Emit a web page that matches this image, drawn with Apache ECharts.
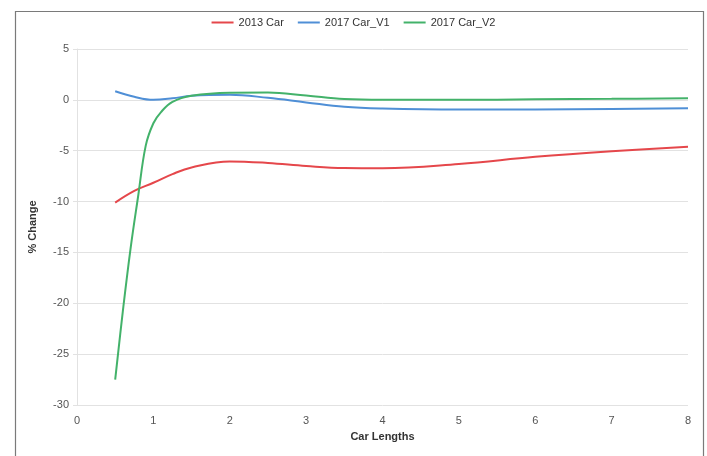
<!DOCTYPE html>
<html>
<head>
<meta charset="utf-8">
<script src="https://cdn.jsdelivr.net/npm/echarts@6/dist/echarts.min.js"></script>
<style>
  html, body { margin: 0; padding: 0; background: #fff; }
  #chart { width: 707px; height: 456px; }
</style>
</head>
<body>
<div id="chart"></div>
<script>
// Percent change vs. following distance (car lengths)
const seriesNames = ['2013 Car', '2017 Car_V1', '2017 Car_V2'];

const car2013X = [0.5, 0.75, 1, 1.25, 1.5, 2, 2.5, 3, 3.5, 4, 5, 6, 7, 8];
const car2013Y = [-10.1, -8.95, -8.15, -7.3, -6.65, -6.05, -6.2, -6.5, -6.7, -6.72, -6.3, -5.6, -5.05, -4.6];

const car2017V1X = [0.5, 0.75, 1, 1.25, 1.5, 2, 2.5, 3, 3.5, 4, 5, 6, 7, 8];
const car2017V1Y = [0.85, 0.3, 0.0, 0.15, 0.4, 0.5, 0.2, -0.25, -0.68, -0.85, -0.95, -0.95, -0.9, -0.82];

const car2017V2X = [0.5, 0.6, 0.7, 0.8, 0.9, 1, 1.1, 1.25, 1.5, 2, 2.5, 3, 3.5, 4, 5, 6, 7, 8];
const car2017V2Y = [-27.5, -20.8, -14.7, -9.5, -4.5, -2.3, -1.2, -0.2, 0.4, 0.7, 0.72, 0.42, 0.08, 0.0, 0.0, 0.05, 0.1, 0.17];

const xTicks = [0, 1, 2, 3, 4, 5, 6, 7, 8];
const yTicks = [-30, -25, -20, -15, -10, -5, 0, 5];

const colors = ['#e5474b', '#4f8fd6', '#43b26a'];

function pairs(xs, ys) { return xs.map((x, i) => [x, ys[i]]); }

const chart = echarts.init(document.getElementById('chart'), null, { renderer: 'canvas' });
const font = 'Liberation Sans, Arial, sans-serif';

chart.setOption({
  animation: false,
  backgroundColor: '#fff',
  color: colors,
  graphic: [{
    type: 'rect',
    left: 13, top: 9,
    shape: { width: 688, height: 460 },
    style: { fill: 'none', stroke: '#7a7a7a', lineWidth: 1.2 },
    silent: true
  }],
  legend: {
    top: 12,
    left: 'center',
    icon: 'rect',
    itemWidth: 22,
    itemHeight: 2,
    itemGap: 14,
    textStyle: { fontFamily: font, fontSize: 11, color: '#333' },
    data: seriesNames
  },
  grid: { left: 77, right: 19, top: 49, bottom: 51, containLabel: false },
  xAxis: {
    type: 'value',
    min: xTicks[0], max: xTicks[xTicks.length - 1], interval: 1,
    name: 'Car Lengths',
    nameLocation: 'middle',
    nameGap: 26,
    nameTextStyle: { fontFamily: font, fontSize: 11, fontWeight: 'bold', color: '#333' },
    axisLine: { show: false },
    axisTick: { show: false },
    splitLine: { show: false },
    axisLabel: { fontFamily: font, fontSize: 11, color: '#555', margin: 10 }
  },
  yAxis: {
    type: 'value',
    min: yTicks[0], max: yTicks[yTicks.length - 1], interval: 5,
    name: '% Change',
    nameLocation: 'middle',
    nameGap: 39,
    nameTextStyle: { fontFamily: font, fontSize: 11, fontWeight: 'bold', color: '#333' },
    axisLine: { show: true, lineStyle: { color: '#e2e2e2', width: 1 } },
    axisTick: { show: true, length: 4, lineStyle: { color: '#e2e2e2' } },
    splitLine: { show: true, lineStyle: { color: '#e2e2e2', width: 1 } },
    axisLabel: { fontFamily: font, fontSize: 11, color: '#555', margin: 8 }
  },
  series: [
    { name: seriesNames[0], type: 'line', data: pairs(car2013X, car2013Y), smooth: 0.4, showSymbol: false, lineStyle: { width: 2 } },
    { name: seriesNames[1], type: 'line', data: pairs(car2017V1X, car2017V1Y), smooth: 0.4, showSymbol: false, lineStyle: { width: 2 } },
    { name: seriesNames[2], type: 'line', data: pairs(car2017V2X, car2017V2Y), smooth: 0.4, showSymbol: false, lineStyle: { width: 2 } }
  ]
});
</script>
</body>
</html>
